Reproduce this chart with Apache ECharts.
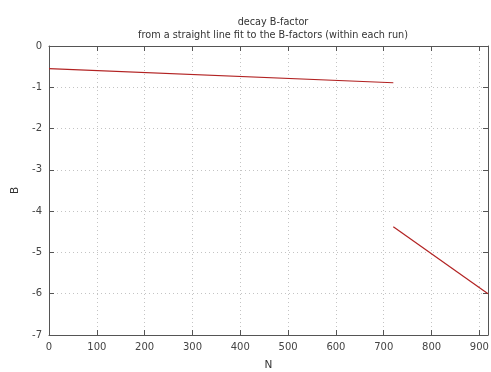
<!DOCTYPE html>
<html><head><meta charset="utf-8">
<script src="https://cdn.jsdelivr.net/npm/echarts@6/dist/echarts.min.js"></script>
<style>html,body{margin:0;padding:0;background:#fff}#c{width:491px;height:372px}</style>
</head><body><div id="c"></div>
<script>
const run1N = [0, 720];
const run1B = [-0.55, -0.89];
const run2N = [720, 918];
const run2B = [-4.38, -6.0];
const xTicks = [0, 100, 200, 300, 400, 500, 600, 700, 800, 900];
const yTicks = [0, -1, -2, -3, -4, -5, -6, -7];

const chart = echarts.init(document.getElementById('c'));
const font = 'DejaVu Sans';
const frame = {show: true, onZero: false, lineStyle: {color: '#555', width: 1}};
const tick = {show: true, inside: true, length: 5, lineStyle: {color: '#555'}};
const gridLine = {show: true, lineStyle: {color: '#c4c4c4', type: [1, 3], width: 1}};
chart.setOption({
  animation: false,
  title: {
    text: 'decay B-factor\nfrom a straight line fit to the B-factors (within each run)',
    left: 268, top: 11, textAlign: 'center',
    textStyle: {fontFamily: font, fontSize: 9.7, fontWeight: 'normal', color: '#333', lineHeight: 13}
  },
  grid: {left: 49, right: 3, top: 46, bottom: 37, containLabel: false, outerBoundsMode: 'none'},
  xAxis: [{
    type: 'value', min: 0, max: 918, interval: 100,
    name: 'N', nameLocation: 'middle', nameGap: 25,
    nameTextStyle: {fontFamily: font, fontSize: 10.5, color: '#333'},
    axisLine: frame, axisTick: tick,
    axisLabel: {fontFamily: font, fontSize: 10, color: '#444', margin: 7, showMaxLabel: false,
      formatter: v => xTicks.includes(v) ? String(v) : ''},
    splitLine: gridLine
  }, {
    type: 'value', position: 'top', min: 0, max: 918, interval: 100,
    axisLine: frame, axisTick: tick,
    axisLabel: {show: false}, splitLine: {show: false}
  }],
  yAxis: [{
    type: 'value', min: -7, max: 0, interval: 1,
    name: 'B', nameLocation: 'middle', nameGap: 25, nameRotate: 90,
    nameTextStyle: {fontFamily: font, fontSize: 10.5, color: '#333'},
    axisLine: frame, axisTick: tick,
    axisLabel: {fontFamily: font, fontSize: 10, color: '#444', margin: 7,
      formatter: v => yTicks.includes(v) ? String(v) : ''},
    splitLine: gridLine
  }, {
    type: 'value', position: 'right', min: -7, max: 0, interval: 1,
    axisLine: frame, axisTick: tick,
    axisLabel: {show: false}, splitLine: {show: false}
  }],
  series: [{
    type: 'line', data: run1N.map((n, i) => [n, run1B[i]]),
    showSymbol: false, lineStyle: {color: '#b22222', width: 1.2}, silent: true
  }, {
    type: 'line', data: run2N.map((n, i) => [n, run2B[i]]),
    showSymbol: false, lineStyle: {color: '#b22222', width: 1.2}, silent: true
  }]
});
</script></body></html>
